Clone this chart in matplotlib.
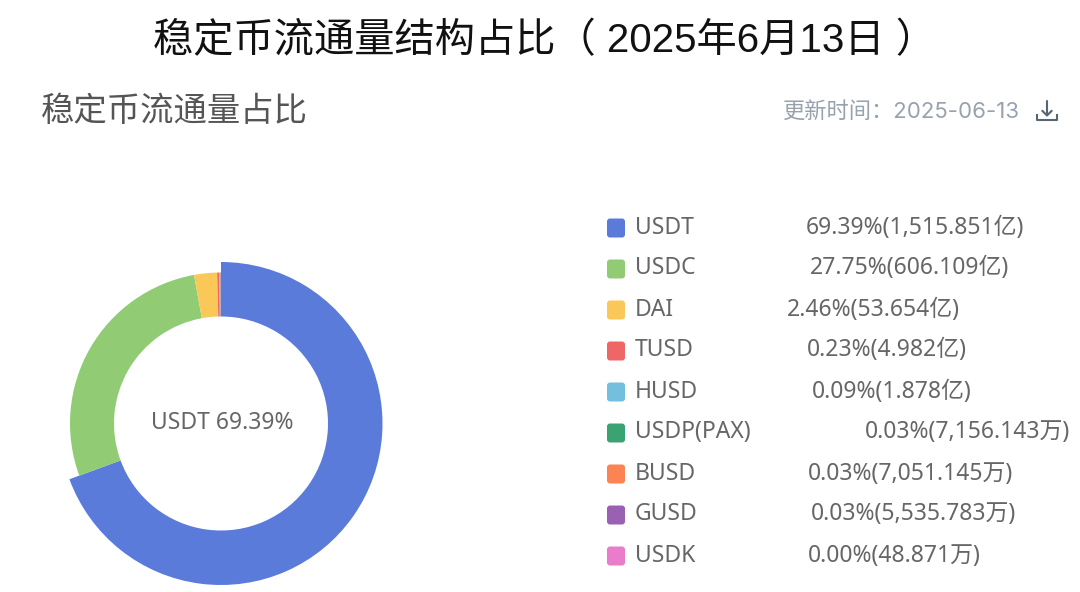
import matplotlib
matplotlib.use("Agg")
import matplotlib.pyplot as plt
from matplotlib.patches import FancyBboxPatch

title = "稳定币流通量结构占比（ 2025年6月13日 ）"
subtitle = "稳定币流通量占比"
updated = "更新时间：2025-06-13"
center_label = "USDT 69.39%"

names = ["USDT", "USDC", "DAI", "TUSD", "HUSD", "USDP(PAX)", "BUSD", "GUSD", "USDK"]
values_yi = [1515.851, 606.109, 53.654, 4.982, 1.878, 0.7156143, 0.7051145, 0.5535783, 0.0048871]
value_labels = ["69.39%(1,515.851亿)", "27.75%(606.109亿)", "2.46%(53.654亿)", "0.23%(4.982亿)",
                "0.09%(1.878亿)", "0.03%(7,156.143万)", "0.03%(7,051.145万)", "0.03%(5,535.783万)",
                "0.00%(48.871万)"]
colors = ["#5B7BDB", "#91CC75", "#FAC858", "#EE6666", "#73C0DE", "#3BA272", "#FC8452", "#9A60B4", "#EA7CCC"]
label_x = [806, 810, 787, 807, 812, 865, 808, 811, 808]

W, H = 1080, 592
CJK = ["Noto Sans CJK SC", "DejaVu Sans"]
LAT = ["Noto Sans", "Noto Sans CJK SC", "DejaVu Sans"]
TITLE = ["Liberation Sans", "Noto Sans CJK SC", "DejaVu Sans"]
Y = lambda p: H - p

fig = plt.figure(figsize=(W / 100, H / 100), dpi=100, facecolor="white")
ax = fig.add_axes([0, 0, 1, 1])

cx, cy = 221, Y(423.5)
wedges, _ = ax.pie(values_yi, colors=colors, startangle=90, counterclock=False,
                   center=(cx, cy), radius=151,
                   wedgeprops=dict(width=151 - 107, linewidth=0))
wedges[0].set_radius(161.5)
wedges[0].set_width(161.5 - 107)
ax.set_xlim(0, W)
ax.set_ylim(0, H)
ax.set_aspect("equal")
ax.axis("off")

ax.text(153, Y(41), title, family=TITLE, fontsize=29, color="#111111", ha="left", va="center")
ax.text(41, Y(112), subtitle, family=CJK, fontsize=24, color="#555555", ha="left", va="center")
ax.text(1020, Y(111), updated, family=["Inter", "Noto Sans CJK SC", "DejaVu Sans"], fontsize=16,
        color="#98A2AE", ha="right", va="center")
ax.text(222, Y(423), center_label, family=LAT, fontsize=16.5, color="#666666", ha="center", va="center")

# download icon
ic = "#5A6470"
ax.plot([1047, 1047], [Y(101), Y(115)], color=ic, lw=1.5, solid_capstyle="round")
ax.plot([1042.5, 1047, 1051.5], [Y(111), Y(115.5), Y(111)], color=ic, lw=1.5)
ax.plot([1037, 1037, 1057, 1057], [Y(115), Y(120), Y(120), Y(115)], color=ic, lw=1.5)

for i, (n, lab, c, x) in enumerate(zip(names, value_labels, colors, label_x)):
    y = 226 + i * 41
    ax.add_patch(FancyBboxPatch((609, Y(y + 9.5)), 14, 15, boxstyle="round,pad=2,rounding_size=3",
                                facecolor=c, edgecolor="none"))
    ax.text(635, Y(y + 1.5), n, family=LAT, fontsize=16.5, color="#666666", ha="left", va="center")
    ax.text(x, Y(y + 1.5), lab, family=LAT, fontsize=16.5, color="#666666", ha="left", va="center")

fig.savefig("out.png", dpi=100, facecolor="white")
